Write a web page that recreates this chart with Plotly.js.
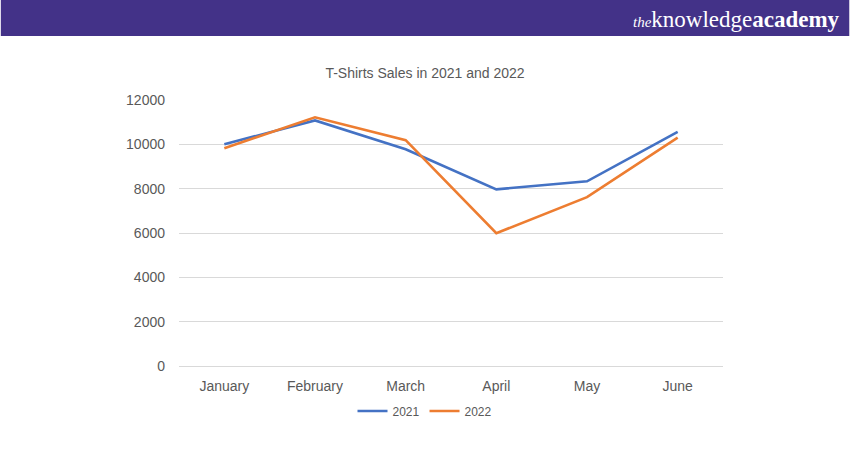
<!DOCTYPE html>
<html>
<head>
<meta charset="utf-8">
<script src="https://cdn.plot.ly/plotly-3.0.1.min.js"></script>
<style>html,body{margin:0;padding:0;background:#fff;}#chart{width:850px;height:450px;}</style>
</head>
<body>
<div id="chart"></div>
<script>
const months = ["January", "February", "March", "April", "May", "June"];
const sales2021 = [10000, 11080, 9780, 7970, 8330, 10560];
const sales2022 = [9820, 11220, 10190, 5990, 7620, 10300];
const seriesNames = ["2021", "2022"];
const yTicks = [0, 2000, 4000, 6000, 8000, 10000, 12000];

const L = 178.5, R = 723.5, T = 100, B = 366, W = 850, H = 450;
const px = x => (x - L) / (R - L);
const py = y => (B - y) / (B - T);

const traces = [
  {x: months, y: sales2021, name: seriesNames[0], type: "scatter", mode: "lines",
   line: {color: "#4472C4", width: 2.6}},
  {x: months, y: sales2022, name: seriesNames[1], type: "scatter", mode: "lines",
   line: {color: "#ED7D31", width: 2.6}}
];

const layout = {
  width: W, height: H,
  margin: {l: L, r: W - R, t: T, b: H - B, pad: 0},
  paper_bgcolor: "#ffffff", plot_bgcolor: "#ffffff",
  font: {family: "Liberation Sans, Arial, sans-serif", color: "#595959", size: 14},
  title: {text: "T-Shirts Sales in 2021 and 2022", xref: "container", x: 0.5, xanchor: "center",
          yref: "container", y: 1 - 73 / H, yanchor: "middle",
          font: {size: 14, color: "#595959"}},
  xaxis: {type: "category", range: [-0.5, 5.5], showgrid: false, zeroline: false, showline: false,
          ticks: "", ticklabelstandoff: 10, tickfont: {size: 14, color: "#595959"}, fixedrange: true},
  yaxis: {range: [0, 12000], tickvals: yTicks, ticktext: yTicks.map(String),
          showgrid: true, gridcolor: "#d9d9d9", gridwidth: 1, zeroline: true,
          zerolinecolor: "#d9d9d9", zerolinewidth: 1, showline: false, ticks: "",
          ticklabelstandoff: 13, tickfont: {size: 14, color: "#595959"}, fixedrange: true},
  showlegend: true,
  legend: {orientation: "h", xref: "container", x: 0.5, xanchor: "center",
           yref: "container", y: 1 - 411 / H, yanchor: "middle",
           font: {size: 12, color: "#595959"}, itemwidth: 30, traceorder: "normal"},
  shapes: [
    {type: "rect", xref: "paper", yref: "paper", x0: px(0), x1: px(W), y0: py(36), y1: py(0),
     fillcolor: "#433288", line: {width: 0}, layer: "above"}
  ],
  annotations: [
    {xref: "paper", yref: "paper", x: px(843), y: py(19), xanchor: "right", yanchor: "middle",
     showarrow: false,
     text: "<i><span style='font-size:15px'>the</span></i>knowledge<b>academy</b>",
     font: {family: "Liberation Serif, DejaVu Serif, serif", size: 23, color: "#ffffff"}}
  ]
};

Plotly.newPlot("chart", traces, layout, {displayModeBar: false, staticPlot: true});
</script>
</body>
</html>
